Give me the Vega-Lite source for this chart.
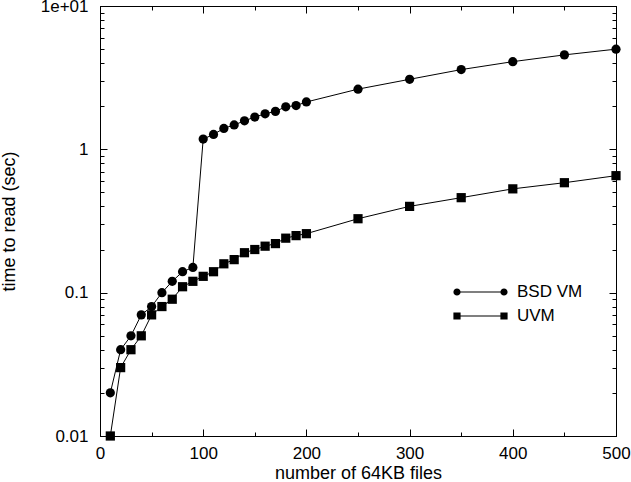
{
  "$schema": "https://vega.github.io/schema/vega-lite/v6.json",
  "autosize": {"type": "none"},
  "padding": {"left": 100, "top": 6, "right": 15, "bottom": 46},
  "width": 516,
  "height": 430,
  "background": "white",
  "data": {
    "values": [
      {"n": 10, "t": 0.02, "series": "BSD VM"},
      {"n": 20, "t": 0.04, "series": "BSD VM"},
      {"n": 30, "t": 0.05, "series": "BSD VM"},
      {"n": 40, "t": 0.07, "series": "BSD VM"},
      {"n": 50, "t": 0.08, "series": "BSD VM"},
      {"n": 60, "t": 0.1, "series": "BSD VM"},
      {"n": 70, "t": 0.12, "series": "BSD VM"},
      {"n": 80, "t": 0.14, "series": "BSD VM"},
      {"n": 90, "t": 0.15, "series": "BSD VM"},
      {"n": 100, "t": 1.18, "series": "BSD VM"},
      {"n": 110, "t": 1.27, "series": "BSD VM"},
      {"n": 120, "t": 1.4, "series": "BSD VM"},
      {"n": 130, "t": 1.48, "series": "BSD VM"},
      {"n": 140, "t": 1.58, "series": "BSD VM"},
      {"n": 150, "t": 1.68, "series": "BSD VM"},
      {"n": 160, "t": 1.77, "series": "BSD VM"},
      {"n": 170, "t": 1.84, "series": "BSD VM"},
      {"n": 180, "t": 1.98, "series": "BSD VM"},
      {"n": 190, "t": 2.02, "series": "BSD VM"},
      {"n": 200, "t": 2.14, "series": "BSD VM"},
      {"n": 250, "t": 2.63, "series": "BSD VM"},
      {"n": 300, "t": 3.08, "series": "BSD VM"},
      {"n": 350, "t": 3.6, "series": "BSD VM"},
      {"n": 400, "t": 4.09, "series": "BSD VM"},
      {"n": 450, "t": 4.56, "series": "BSD VM"},
      {"n": 500, "t": 5.0, "series": "BSD VM"},
      {"n": 10, "t": 0.01, "series": "UVM"},
      {"n": 20, "t": 0.03, "series": "UVM"},
      {"n": 30, "t": 0.04, "series": "UVM"},
      {"n": 40, "t": 0.05, "series": "UVM"},
      {"n": 50, "t": 0.07, "series": "UVM"},
      {"n": 60, "t": 0.08, "series": "UVM"},
      {"n": 70, "t": 0.09, "series": "UVM"},
      {"n": 80, "t": 0.11, "series": "UVM"},
      {"n": 90, "t": 0.12, "series": "UVM"},
      {"n": 100, "t": 0.13, "series": "UVM"},
      {"n": 110, "t": 0.14, "series": "UVM"},
      {"n": 120, "t": 0.159, "series": "UVM"},
      {"n": 130, "t": 0.17, "series": "UVM"},
      {"n": 140, "t": 0.19, "series": "UVM"},
      {"n": 150, "t": 0.2, "series": "UVM"},
      {"n": 160, "t": 0.211, "series": "UVM"},
      {"n": 170, "t": 0.22, "series": "UVM"},
      {"n": 180, "t": 0.24, "series": "UVM"},
      {"n": 190, "t": 0.25, "series": "UVM"},
      {"n": 200, "t": 0.258, "series": "UVM"},
      {"n": 250, "t": 0.328, "series": "UVM"},
      {"n": 300, "t": 0.4, "series": "UVM"},
      {"n": 350, "t": 0.46, "series": "UVM"},
      {"n": 400, "t": 0.53, "series": "UVM"},
      {"n": 450, "t": 0.585, "series": "UVM"},
      {"n": 500, "t": 0.655, "series": "UVM"}
    ]
  },
  "layer": [
    {
      "mark": {"type": "line", "color": "black", "strokeWidth": 1, "clip": false},
      "encoding": {
        "x": {
          "field": "n", "type": "quantitative",
          "scale": {"domain": [0, 500], "nice": false, "zero": false},
          "axis": {
            "orient": "bottom",
            "title": "number of 64KB files",
            "values": [0, 50, 100, 150, 200, 250, 300, 350, 400, 450, 500],
            "labelExpr": "datum.value % 100 == 0 ? datum.label : ''",
            "tickSize": {"condition": {"test": "datum.value % 100 == 0", "value": -7}, "value": -4},
            "labelPadding": 16,
            "titleX": 258,
            "titleY": 37,
            "titleBaseline": "middle",
            "titleAnchor": null
          }
        },
        "y": {
          "field": "t", "type": "quantitative",
          "scale": {"type": "log", "domain": [0.01, 10], "nice": false},
          "axis": {
            "orient": "left",
            "title": "time to read (sec)",
            "values": [0.01, 0.02, 0.03, 0.04, 0.05, 0.06, 0.07, 0.08, 0.09, 0.1, 0.2, 0.3, 0.4, 0.5, 0.6, 0.7, 0.8, 0.9, 1, 2, 3, 4, 5, 6, 7, 8, 9, 10],
            "labelExpr": "datum.value == 0.01 ? '0.01' : datum.value == 0.1 ? '0.1' : datum.value == 1 ? '1' : datum.value == 10 ? '1e+01' : ''",
            "tickSize": {"condition": {"test": "indexof([0.01, 0.1, 1, 10], datum.value) >= 0", "value": -7}, "value": -4},
            "labelPadding": 19,
            "titleX": -91,
            "titleY": 215,
            "titleAngle": -90,
            "titleBaseline": "middle",
            "titleAnchor": null
          }
        },
        "detail": {"field": "series"}
      }
    },
    {
      "mark": {"type": "point", "filled": true, "color": "black", "opacity": 1, "size": 85, "clip": false},
      "encoding": {
        "x": {
          "field": "n", "type": "quantitative",
          "axis": {
            "orient": "top",
            "title": null,
            "labels": false,
            "values": [0, 50, 100, 150, 200, 250, 300, 350, 400, 450, 500],
            "tickSize": {"condition": {"test": "datum.value % 100 == 0", "value": -7}, "value": -4}
          }
        },
        "y": {
          "field": "t", "type": "quantitative",
          "axis": {
            "orient": "right",
            "title": null,
            "labels": false,
            "values": [0.01, 0.02, 0.03, 0.04, 0.05, 0.06, 0.07, 0.08, 0.09, 0.1, 0.2, 0.3, 0.4, 0.5, 0.6, 0.7, 0.8, 0.9, 1, 2, 3, 4, 5, 6, 7, 8, 9, 10],
            "tickSize": {"condition": {"test": "indexof([0.01, 0.1, 1, 10], datum.value) >= 0", "value": -7}, "value": -4}
          }
        },
        "shape": {
          "field": "series", "type": "nominal",
          "scale": {"domain": ["BSD VM", "UVM"], "range": ["circle", "square"]},
          "legend": null
        }
      }
    },
    {
      "transform": [{"filter": "datum.n < 0"}],
      "mark": {"type": "point", "filled": true, "color": "black", "opacity": 1},
      "encoding": {
        "shape": {
          "field": "series", "type": "nominal",
          "scale": {"domain": ["BSD VM", "UVM"], "range": ["M-0.85,-0.018L0.85,-0.018L0.85,0.018L-0.85,0.018ZM-0.72,0A0.13,0.13,0,1,1,-0.98,0A0.13,0.13,0,1,1,-0.72,0ZM0.98,0A0.13,0.13,0,1,1,0.72,0A0.13,0.13,0,1,1,0.98,0Z", "M-0.85,-0.018L0.85,-0.018L0.85,0.018L-0.85,0.018ZM-0.98,-0.13L-0.72,-0.13L-0.72,0.13L-0.98,0.13ZM0.72,-0.13L0.98,-0.13L0.98,0.13L0.72,0.13Z"]},
          "legend": {
            "title": null,
            "orient": "none",
            "legendX": 352,
            "legendY": 274,
            "padding": 0,
            "clipHeight": 24,
            "rowPadding": 0,
            "symbolSize": 3058,
            "symbolStrokeWidth": 1,
            "symbolStrokeColor": "black",
            "symbolFillColor": "black",
            "symbolOpacity": 1,
            "labelOffset": 8,
            "labelFontSize": 17,
            "labelFont": "Liberation Sans",
            "labelColor": "black",
            "encode": {
              "symbols": {
                "update": {
                  "stroke": {"value": "black"},
                  "strokeWidth": {"value": 0.5},
                  "fill": {"value": "black"},
                  "opacity": {"value": 1}
                }
              }
            }
          }
        }
      }
    }
  ],
  "resolve": {
    "axis": {"x": "independent", "y": "independent"},
    "scale": {"shape": "independent"},
    "legend": {"shape": "independent"}
  },
  "config": {
    "view": {"stroke": "black", "strokeWidth": 1},
    "axis": {
      "grid": false,
      "domain": true,
      "domainColor": "black",
      "domainWidth": 1,
      "tickColor": "black",
      "tickWidth": 1,
      "labelColor": "black",
      "labelFont": "Liberation Sans",
      "labelFontSize": 17,
      "titleFont": "Liberation Sans",
      "titleFontSize": 18,
      "titleFontWeight": "normal",
      "titleColor": "black",
      "labelBound": false,
      "labelOverlap": false,
      "labelFlush": false
    }
  }
}
